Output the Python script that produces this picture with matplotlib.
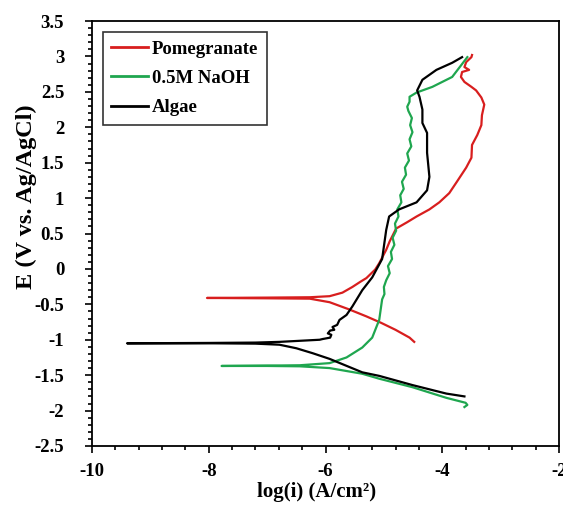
import matplotlib
matplotlib.use("Agg")
import matplotlib.pyplot as plt
from matplotlib.ticker import MultipleLocator

# ---- data (log(i), E) ----
pom_logi = [-4.48, -4.56, -4.80, -5.05, -5.30, -5.60, -5.93, -6.27, -7.00, -8.03,
            -7.00, -6.27, -5.93, -5.71, -5.54, -5.40, -5.30, -5.15, -5.08, -4.96,
            -4.90, -4.79, -4.60, -4.44, -4.22, -4.05, -3.88, -3.75, -3.59, -3.50,
            -3.49, -3.40, -3.33, -3.32, -3.28, -3.33, -3.42, -3.50, -3.62, -3.68,
            -3.66, -3.54, -3.62, -3.59, -3.50, -3.49]
pom_E = [-1.03, -0.97, -0.86, -0.76, -0.67, -0.57, -0.47, -0.42, -0.415, -0.41,
         -0.405, -0.40, -0.385, -0.335, -0.255, -0.18, -0.13, -0.01, 0.08, 0.27,
         0.39, 0.57, 0.66, 0.74, 0.84, 0.94, 1.07, 1.23, 1.43, 1.57,
         1.75, 1.89, 2.03, 2.17, 2.32, 2.42, 2.52, 2.57, 2.64, 2.71,
         2.78, 2.81, 2.85, 2.92, 2.99, 3.02]

naoh_logi = [-3.62, -3.57, -3.60, -3.93, -4.51, -5.08, -5.37, -5.93, -6.44, -7.00,
             -7.78, -7.00, -6.44, -5.93, -5.64, -5.37, -5.20, -5.08, -5.03, -4.99,
             -5.00, -4.96, -4.90, -4.93, -4.86, -4.88, -4.82, -4.85, -4.79, -4.81,
             -4.75, -4.77, -4.70, -4.72, -4.66, -4.69, -4.62, -4.64, -4.57, -4.60,
             -4.53, -4.56, -4.51, -4.55, -4.52, -4.58, -4.60, -4.56, -4.56, -4.44,
             -4.17, -3.83, -3.57]
naoh_E = [-1.95, -1.92, -1.89, -1.82, -1.67, -1.55, -1.48, -1.40, -1.375, -1.37,
          -1.37, -1.365, -1.36, -1.33, -1.25, -1.11, -0.97, -0.72, -0.43, -0.355,
          -0.255, -0.16, -0.06, 0.04, 0.14, 0.24, 0.34, 0.44, 0.54, 0.64,
          0.74, 0.84, 0.94, 1.04, 1.13, 1.23, 1.33, 1.43, 1.53, 1.63,
          1.73, 1.83, 1.93, 2.03, 2.13, 2.23, 2.29, 2.36, 2.43, 2.49,
          2.57, 2.71, 2.99]

algae_logi = [-3.62, -3.93, -4.51, -5.08, -5.37, -5.93, -6.22, -6.50, -6.79, -7.20,
              -8.00, -9.40, -8.00, -7.20, -6.79, -6.10, -6.05, -5.92, -5.90, -5.96,
              -5.92, -5.85, -5.88, -5.80, -5.76, -5.64, -5.54, -5.37, -5.20, -5.03,
              -4.96, -4.91, -4.74, -4.44, -4.26, -4.22, -4.26, -4.26, -4.34, -4.34,
              -4.39, -4.43, -4.34, -4.10, -3.83, -3.66]
algae_E = [-1.80, -1.76, -1.64, -1.51, -1.46, -1.27, -1.19, -1.12, -1.07, -1.055,
           -1.05, -1.05, -1.045, -1.04, -1.03, -1.00, -0.99, -0.97, -0.93, -0.91,
           -0.87, -0.86, -0.82, -0.79, -0.72, -0.65, -0.53, -0.30, -0.12, 0.14,
           0.55, 0.74, 0.84, 0.94, 1.11, 1.30, 1.64, 1.92, 2.06, 2.25,
           2.43, 2.52, 2.67, 2.81, 2.91, 2.99]

series_labels = ["Pomegranate", "0.5M NaOH", "Algae"]
series_colors = ["#d81e1e", "#1fa64f", "#000000"]

x_ticks = [-10, -8, -6, -4, -2]
y_ticks = [-2.5, -2, -1.5, -1, -0.5, 0, 0.5, 1, 1.5, 2, 2.5, 3, 3.5]

plt.rcParams['font.family'] = ['Liberation Serif', 'DejaVu Serif']
plt.rcParams['font.weight'] = 'bold'
plt.rcParams['axes.unicode_minus'] = False

fig = plt.figure(figsize=(5.63, 5.14), dpi=100)
ax = fig.add_axes([92/563, 1-446/514, (559-92)/563, (446-21)/514])

for xs, ys, lab, col in zip([pom_logi, naoh_logi, algae_logi],
                            [pom_E, naoh_E, algae_E], series_labels, series_colors):
    ax.plot(xs, ys, color=col, lw=1.6, label=lab)

ax.set_xlim(-10, -2)
ax.set_ylim(-2.5, 3.5)
ax.set_xticks(x_ticks)
ax.set_yticks(y_ticks)
ax.set_xticklabels([f"{t:g}" for t in x_ticks])
ax.set_yticklabels([f"{t:g}" for t in y_ticks])
ax.xaxis.set_minor_locator(MultipleLocator(0.4))
ax.yaxis.set_minor_locator(MultipleLocator(0.1))
ax.tick_params(which='both', direction='out', top=False, right=False,
               labelsize=13.5, width=1.2)
ax.tick_params(which='major', length=5)
ax.tick_params(which='minor', length=3)
ax.tick_params(axis='x', which='major', pad=7)
ax.tick_params(axis='y', which='major', pad=15)
for s in ax.spines.values():
    s.set_linewidth(1.3)

ax.set_xlabel("log(i) (A/cm²)", fontsize=15, fontweight='bold')
ax.set_ylabel("E (V vs. Ag/AgCl)", fontsize=17.5, fontweight='bold')
ax.xaxis.set_label_coords(0.48, -0.085)
ax.yaxis.set_label_coords(-0.118, 0.586)

leg = ax.legend(loc='upper left', bbox_to_anchor=(0.0236, 0.974), fontsize=13.5,
                frameon=True, fancybox=False, edgecolor='black',
                handlelength=1.95, handletextpad=0.22, borderpad=0.45,
                labelspacing=0.65, borderaxespad=0)
leg.get_frame().set_linewidth(1.2)
for line in leg.get_lines():
    line.set_linewidth(2.0)
for t in leg.get_texts():
    t.set_fontweight('bold')

fig.savefig("out.png", dpi=100)
